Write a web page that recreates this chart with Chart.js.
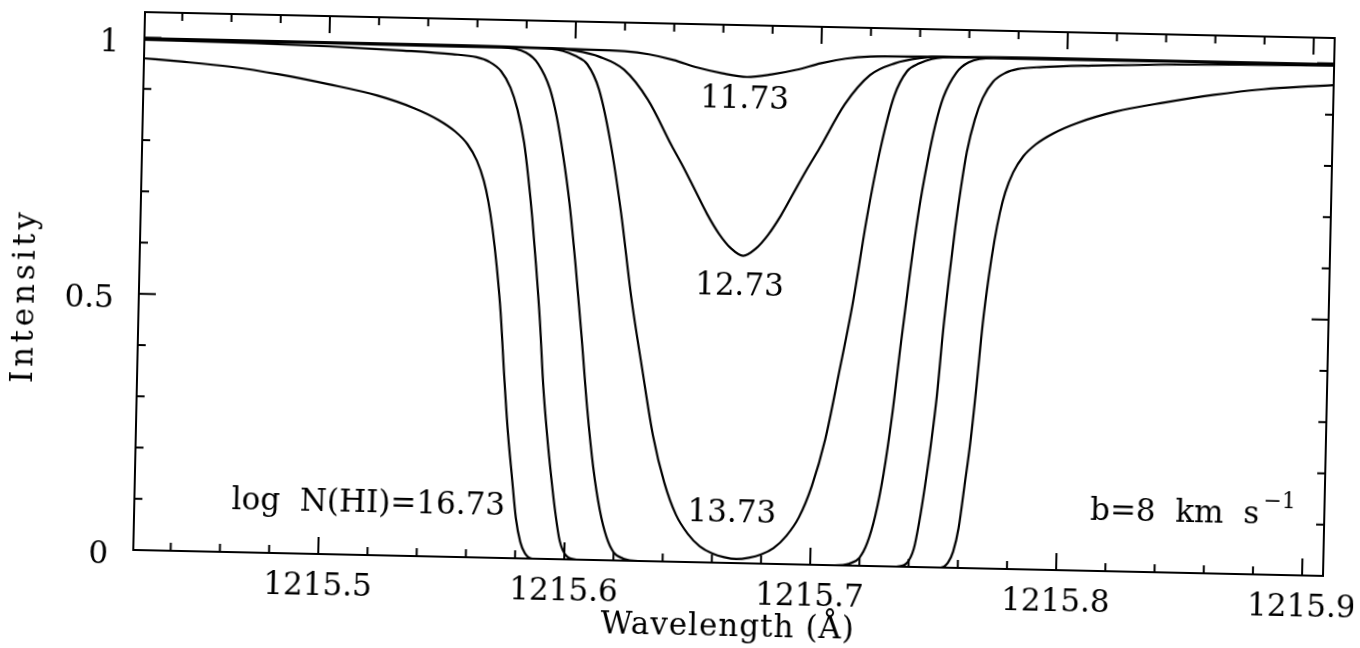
<!DOCTYPE html>
<html><head><meta charset="utf-8">
<script src="https://cdn.jsdelivr.net/npm/chart.js@4.4.0/dist/chart.umd.min.js"></script>
<style>
html,body{margin:0;padding:0;background:#fff;overflow:hidden;}
#wrap{width:1360px;height:648px;position:relative;overflow:hidden;background:#fff;}
#c{position:absolute;left:0;top:0;width:1360px;height:648px;transform:rotate(1.25deg);transform-origin:734px 294px;}
</style></head><body>
<div id="wrap"><canvas id="c" width="1360" height="648"></canvas></div>
<script>
// ---- data (wavelength in Angstrom, normalized intensity) ----
const wl1173 = [1215.424,1215.55,1215.60,1215.62,1215.63,1215.64,1215.65,1215.66,1215.67,1215.68,1215.69,1215.70,1215.71,1215.72,1215.74,1215.79,1215.909];
const in1173 = [0.999,0.998,0.996,0.994,0.989,0.979,0.965,0.955,0.949,0.955,0.965,0.979,0.989,0.994,0.996,0.998,0.998];

const wl1273 = [1215.424,1215.55,1215.59,1215.60,1215.61,1215.62,1215.63,1215.64,1215.645,1215.65,1215.655,1215.66,1215.665,1215.67,1215.675,1215.68,1215.685,1215.69,1215.695,1215.70,1215.71,1215.72,1215.73,1215.74,1215.75,1215.79,1215.909];
const in1273 = [0.999,0.998,0.997,0.993,0.982,0.958,0.900,0.812,0.770,0.725,0.680,0.642,0.614,0.600,0.614,0.642,0.680,0.725,0.770,0.812,0.900,0.958,0.982,0.993,0.997,0.998,0.998];

const wl1373 = [1215.424,1215.55,1215.585,1215.595,1215.60,1215.605,1215.61,1215.615,1215.62,1215.625,1215.63,1215.635,1215.64,1215.645,1215.65,1215.655,1215.66,1215.665,1215.67,1215.675,1215.68,1215.685,1215.69,1215.695,1215.70,1215.705,1215.71,1215.715,1215.72,1215.725,1215.73,1215.735,1215.74,1215.745,1215.755,1215.79,1215.909];
const in1373 = [0.999,0.998,0.997,0.992,0.983,0.967,0.918,0.818,0.680,0.512,0.375,0.245,0.154,0.092,0.055,0.031,0.018,0.011,0.008,0.011,0.018,0.031,0.055,0.092,0.154,0.245,0.375,0.512,0.680,0.818,0.918,0.967,0.983,0.992,0.997,0.998,0.998];

const wl1473 = [1215.424,1215.50,1215.55,1215.57,1215.58,1215.585,1215.59,1215.593,1215.596,1215.599,1215.602,1215.605,1215.608,1215.611,1215.614,1215.617,1215.620,1215.624,1215.63,1215.71,1215.716,1215.720,1215.723,1215.726,1215.729,1215.732,1215.735,1215.738,1215.741,1215.744,1215.747,1215.750,1215.755,1215.760,1215.770,1215.79,1215.84,1215.909];
const in1473 = [0.998,0.997,0.996,0.996,0.987,0.966,0.918,0.864,0.788,0.695,0.575,0.440,0.296,0.180,0.098,0.045,0.016,0.004,0.000,0.000,0.004,0.016,0.045,0.098,0.180,0.296,0.440,0.575,0.695,0.788,0.864,0.918,0.966,0.987,0.996,0.996,0.997,0.998];

const wl1573 = [1215.424,1215.47,1215.50,1215.53,1215.55,1215.56,1215.565,1215.570,1215.574,1215.577,1215.580,1215.582,1215.584,1215.586,1215.588,1215.590,1215.592,1215.594,1215.596,1215.598,1215.601,1215.605,1215.735,1215.739,1215.742,1215.744,1215.746,1215.748,1215.750,1215.752,1215.754,1215.756,1215.758,1215.760,1215.763,1215.766,1215.770,1215.775,1215.780,1215.790,1215.810,1215.840,1215.870,1215.909];
const in1573 = [0.996,0.994,0.991,0.986,0.981,0.976,0.968,0.950,0.918,0.876,0.812,0.745,0.665,0.570,0.465,0.335,0.240,0.160,0.090,0.036,0.006,0.000,0.000,0.006,0.036,0.090,0.160,0.240,0.335,0.465,0.570,0.665,0.745,0.812,0.876,0.918,0.950,0.968,0.976,0.981,0.986,0.991,0.994,0.996];

const wl1673 = [1215.424,1215.44,1215.46,1215.48,1215.50,1215.52,1215.535,1215.545,1215.552,1215.557,1215.561,1215.564,1215.566,1215.568,1215.570,1215.572,1215.574,1215.576,1215.578,1215.580,1215.582,1215.584,1215.587,1215.753,1215.756,1215.758,1215.760,1215.762,1215.764,1215.766,1215.768,1215.770,1215.772,1215.774,1215.776,1215.779,1215.783,1215.788,1215.795,1215.805,1215.820,1215.840,1215.860,1215.880,1215.900,1215.909];
const in1673 = [0.960,0.955,0.947,0.934,0.917,0.897,0.874,0.852,0.830,0.806,0.774,0.735,0.695,0.640,0.568,0.478,0.355,0.245,0.160,0.078,0.032,0.010,0.000,0.000,0.010,0.032,0.078,0.160,0.245,0.355,0.478,0.568,0.640,0.695,0.735,0.774,0.806,0.830,0.852,0.874,0.897,0.917,0.934,0.947,0.955,0.958];

const xTickLabels = ['1215.5','1215.6','1215.7','1215.8','1215.9'];
const xMajorTicks = [1215.5,1215.6,1215.7,1215.8,1215.9];
const yTickLabels = ['0','0.5','1'];
const yMajorTicks = [0,0.5,1];
const curveLabels = ['11.73','12.73','13.73','log  N(HI)=16.73'];

// ---- chart ----
const series = [[wl1173,in1173],[wl1273,in1273],[wl1373,in1373],[wl1473,in1473],[wl1573,in1573],[wl1673,in1673]];
const datasets = series.map(([w,v]) => ({
  data: w.map((xv,i)=>({x:xv,y:v[i]})),
  borderColor:'#000', borderWidth:2.2, pointRadius:0, fill:false,
  cubicInterpolationMode:'monotone'
}));

const FONT = '"DejaVu Serif", "Liberation Serif", serif';
const annotations = [
  {t:curveLabels[0], x:1215.6692, y:0.888, align:'center'},
  {t:curveLabels[1], x:1215.6688, y:0.523, align:'center'},
  {t:curveLabels[2], x:1215.6677, y:0.0805, align:'center'},
  {t:curveLabels[3], x:1215.5755, y:0.0845, align:'right'}
];

const axesPlugin = {
  id:'axesPlugin',
  afterDraw(chart){
    const {ctx, chartArea:a, scales:{x,y}} = chart;
    ctx.save();
    ctx.strokeStyle='#000'; ctx.fillStyle='#000'; ctx.lineWidth=2;
    ctx.strokeRect(a.left, a.top, a.right-a.left, a.bottom-a.top);
    ctx.beginPath();
    // x ticks (top & bottom, inward)
    for (let k=0;k<=24;k++){
      const v = 1215.42 + 0.02*k;
      if (v < x.min || v > x.max) continue;
      const major = xMajorTicks.some(m=>Math.abs(m-v)<1e-6);
      const len = major?17:8;
      const px = x.getPixelForValue(v);
      ctx.moveTo(px,a.bottom); ctx.lineTo(px,a.bottom-len);
      ctx.moveTo(px,a.top); ctx.lineTo(px,a.top+len);
    }
    // y ticks (left & right, inward)
    for (let k=0;k<=10;k++){
      const v = 0.1*k;
      const major = yMajorTicks.some(m=>Math.abs(m-v)<1e-6);
      const len = major?17:8;
      const py = y.getPixelForValue(v);
      ctx.moveTo(a.left,py); ctx.lineTo(a.left+len,py);
      ctx.moveTo(a.right,py); ctx.lineTo(a.right-len,py);
    }
    ctx.stroke();

    ctx.font = '31px ' + FONT;
    ctx.textBaseline='alphabetic';
    // x tick labels
    ctx.textAlign='center';
    xMajorTicks.forEach((v,i)=>{ ctx.fillText(xTickLabels[i], x.getPixelForValue(v), a.bottom+41); });
    // y tick labels
    ctx.textAlign='right';
    yMajorTicks.forEach((v,i)=>{ ctx.fillText(yTickLabels[i], a.left-25, y.getPixelForValue(v)+14); });

    // curve annotations
    annotations.forEach(n=>{
      ctx.textAlign=n.align;
      ctx.fillText(n.t, x.getPixelForValue(n.x), y.getPixelForValue(n.y));
    });
    // b = 8 km s^-1
    ctx.textAlign='left';
    const bx = x.getPixelForValue(1215.8133), by = y.getPixelForValue(0.099);
    const main = 'b=8  km  s';
    ctx.fillText(main, bx, by);
    const w = ctx.measureText(main).width;
    ctx.font = '22px ' + FONT;
    ctx.fillText('\u22121', bx + w + 4, by - 16);

    // axis titles
    ctx.font = '31px ' + FONT;
    try { ctx.letterSpacing = '1px'; } catch(e){}
    ctx.textAlign='center';
    ctx.fillText('Wavelength (\u00C5)', 735, 636);
    try { ctx.letterSpacing = '4px'; } catch(e){}
    ctx.save();
    ctx.translate(34, 311);
    ctx.rotate(-Math.PI/2);
    ctx.fillText('Intensity', 0, 0);
    ctx.restore();
    try { ctx.letterSpacing = '0px'; } catch(e){}
    ctx.restore();
  }
};

new Chart(document.getElementById('c'), {
  type:'line',
  data:{datasets},
  options:{
    responsive:false, animation:false, devicePixelRatio:1,
    layout:{padding:{left:0, top:25, right:31, bottom:0}},
    plugins:{legend:{display:false}, tooltip:{enabled:false}},
    scales:{
      x:{type:'linear', min:1215.4248, max:1215.9085,
         grid:{display:false}, border:{display:false}, ticks:{display:false},
         afterFit(s){ s.height = 85; }},
      y:{type:'linear', min:0, max:1.05,
         grid:{display:false}, border:{display:false}, ticks:{display:false},
         afterFit(s){ s.width = 139; }}
    }
  },
  plugins:[axesPlugin]
});
</script>
</body></html>
